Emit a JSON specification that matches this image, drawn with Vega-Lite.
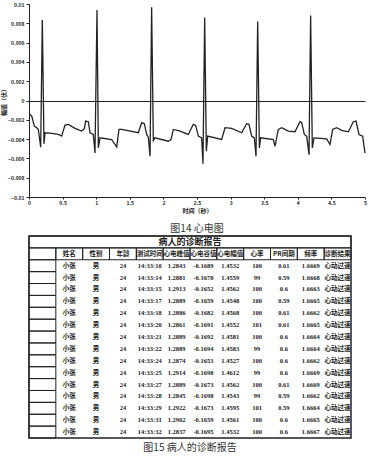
{
  "$schema": "https://vega.github.io/schema/vega-lite/v6.json",
  "background": "white",
  "padding": {"left": 0, "top": 2, "right": 0, "bottom": 0},
  "spacing": 0,
  "config": {"view": {"stroke": null}, "font": "Noto Sans CJK SC", "axis": {"labelOverlap": false}},
  "datasets": {
    "ecg": [
      {"t": 0.000, "v": -0.00136}, {"t": 0.040, "v": -0.00160}, {"t": 0.079, "v": -0.00265}, {"t": 0.114, "v": -0.00282},
      {"t": 0.139, "v": -0.00300}, {"t": 0.174, "v": -0.00484}, {"t": 0.198, "v": 0.00833}, {"t": 0.223, "v": -0.00449},
      {"t": 0.238, "v": -0.00334}, {"t": 0.337, "v": -0.00341}, {"t": 0.437, "v": -0.00352}, {"t": 0.486, "v": -0.00369},
      {"t": 0.536, "v": -0.00254}, {"t": 0.585, "v": -0.00247}, {"t": 0.685, "v": -0.00289}, {"t": 0.784, "v": -0.00317},
      {"t": 0.823, "v": -0.00293}, {"t": 0.843, "v": -0.00213}, {"t": 0.883, "v": -0.00220}, {"t": 0.908, "v": -0.00334},
      {"t": 0.957, "v": -0.00352}, {"t": 0.982, "v": -0.00544}, {"t": 1.012, "v": 0.00937}, {"t": 1.032, "v": -0.00491},
      {"t": 1.057, "v": -0.00387}, {"t": 1.230, "v": -0.00404}, {"t": 1.305, "v": -0.00481}, {"t": 1.339, "v": -0.00300},
      {"t": 1.379, "v": -0.00300}, {"t": 1.627, "v": -0.00334}, {"t": 1.677, "v": -0.00230}, {"t": 1.716, "v": -0.00240},
      {"t": 1.751, "v": -0.00352}, {"t": 1.776, "v": -0.00380}, {"t": 1.801, "v": -0.00578}, {"t": 1.825, "v": 0.00965},
      {"t": 1.850, "v": -0.00415}, {"t": 1.875, "v": -0.00387}, {"t": 2.073, "v": -0.00422}, {"t": 2.113, "v": -0.00404},
      {"t": 2.148, "v": -0.00300}, {"t": 2.247, "v": -0.00317}, {"t": 2.371, "v": -0.00352}, {"t": 2.445, "v": -0.00247},
      {"t": 2.480, "v": -0.00258}, {"t": 2.520, "v": -0.00369}, {"t": 2.569, "v": -0.00387}, {"t": 2.589, "v": -0.00655},
      {"t": 2.614, "v": 0.00861}, {"t": 2.639, "v": -0.00526}, {"t": 2.659, "v": -0.00369}, {"t": 2.867, "v": -0.00404},
      {"t": 2.917, "v": -0.00282}, {"t": 3.016, "v": -0.00289}, {"t": 3.165, "v": -0.00334}, {"t": 3.239, "v": -0.00240},
      {"t": 3.274, "v": -0.00247}, {"t": 3.313, "v": -0.00369}, {"t": 3.353, "v": -0.00387}, {"t": 3.378, "v": -0.00578},
      {"t": 3.403, "v": 0.00819}, {"t": 3.428, "v": -0.00491}, {"t": 3.447, "v": -0.00387}, {"t": 3.636, "v": -0.00404},
      {"t": 3.661, "v": -0.00474}, {"t": 3.710, "v": -0.00300}, {"t": 3.760, "v": -0.00282}, {"t": 3.859, "v": -0.00317},
      {"t": 3.958, "v": -0.00324}, {"t": 4.033, "v": -0.00220}, {"t": 4.058, "v": -0.00230}, {"t": 4.097, "v": -0.00352},
      {"t": 4.132, "v": -0.00369}, {"t": 4.167, "v": -0.00561}, {"t": 4.191, "v": 0.00882}, {"t": 4.216, "v": -0.00491},
      {"t": 4.241, "v": -0.00387}, {"t": 4.430, "v": -0.00397}, {"t": 4.479, "v": -0.00456}, {"t": 4.519, "v": -0.00300},
      {"t": 4.578, "v": -0.00282}, {"t": 4.653, "v": -0.00310}, {"t": 4.752, "v": -0.00324}, {"t": 4.826, "v": -0.00220},
      {"t": 4.866, "v": -0.00213}, {"t": 4.911, "v": -0.00352}, {"t": 4.965, "v": -0.00369}, {"t": 5.000, "v": -0.00544}
    ],
    "rows": [
      {"序号": 1, "姓名": "小张", "性别": "男", "年龄": 24, "测试时间": "14:33:10", "心电峰值": 1.2843, "心电谷值": -0.1689, "心电幅值": 1.4532, "心率": 100, "PR间期": 0.61, "频率": 1.6669, "诊断结果": "心动过速"},
      {"序号": 2, "姓名": "小张", "性别": "男", "年龄": 24, "测试时间": "14:33:14", "心电峰值": 1.2881, "心电谷值": -0.1678, "心电幅值": 1.4559, "心率": 99, "PR间期": 0.59, "频率": 1.6668, "诊断结果": "心动过速"},
      {"序号": 3, "姓名": "小张", "性别": "男", "年龄": 24, "测试时间": "14:33:15", "心电峰值": 1.2913, "心电谷值": -0.1652, "心电幅值": 1.4562, "心率": 100, "PR间期": 0.6, "频率": 1.6663, "诊断结果": "心动过速"},
      {"序号": 4, "姓名": "小张", "性别": "男", "年龄": 24, "测试时间": "14:33:17", "心电峰值": 1.2889, "心电谷值": -0.1659, "心电幅值": 1.4548, "心率": 100, "PR间期": 0.59, "频率": 1.6665, "诊断结果": "心动过速"},
      {"序号": 5, "姓名": "小张", "性别": "男", "年龄": 24, "测试时间": "14:33:18", "心电峰值": 1.2886, "心电谷值": -0.1682, "心电幅值": 1.4568, "心率": 100, "PR间期": 0.61, "频率": 1.6662, "诊断结果": "心动过速"},
      {"序号": 6, "姓名": "小张", "性别": "男", "年龄": 24, "测试时间": "14:33:20", "心电峰值": 1.2861, "心电谷值": -0.1691, "心电幅值": 1.4552, "心率": 101, "PR间期": 0.61, "频率": 1.6665, "诊断结果": "心动过速"},
      {"序号": 7, "姓名": "小张", "性别": "男", "年龄": 24, "测试时间": "14:33:21", "心电峰值": 1.2889, "心电谷值": -0.1692, "心电幅值": 1.4581, "心率": 100, "PR间期": 0.6, "频率": 1.6664, "诊断结果": "心动过速"},
      {"序号": 8, "姓名": "小张", "性别": "男", "年龄": 24, "测试时间": "14:33:22", "心电峰值": 1.2889, "心电谷值": -0.1694, "心电幅值": 1.4583, "心率": 99, "PR间期": 0.6, "频率": 1.6664, "诊断结果": "心动过速"},
      {"序号": 9, "姓名": "小张", "性别": "男", "年龄": 24, "测试时间": "14:33:24", "心电峰值": 1.2874, "心电谷值": -0.1653, "心电幅值": 1.4527, "心率": 100, "PR间期": 0.6, "频率": 1.6662, "诊断结果": "心动过速"},
      {"序号": 10, "姓名": "小张", "性别": "男", "年龄": 24, "测试时间": "14:33:25", "心电峰值": 1.2914, "心电谷值": -0.1698, "心电幅值": 1.4612, "心率": 99, "PR间期": 0.6, "频率": 1.6669, "诊断结果": "心动过速"},
      {"序号": 11, "姓名": "小张", "性别": "男", "年龄": 24, "测试时间": "14:33:27", "心电峰值": 1.2889, "心电谷值": -0.1673, "心电幅值": 1.4562, "心率": 100, "PR间期": 0.61, "频率": 1.6669, "诊断结果": "心动过速"},
      {"序号": 12, "姓名": "小张", "性别": "男", "年龄": 24, "测试时间": "14:33:28", "心电峰值": 1.2845, "心电谷值": -0.1698, "心电幅值": 1.4543, "心率": 99, "PR间期": 0.59, "频率": 1.6662, "诊断结果": "心动过速"},
      {"序号": 13, "姓名": "小张", "性别": "男", "年龄": 24, "测试时间": "14:33:29", "心电峰值": 1.2922, "心电谷值": -0.1673, "心电幅值": 1.4595, "心率": 101, "PR间期": 0.59, "频率": 1.6664, "诊断结果": "心动过速"},
      {"序号": 14, "姓名": "小张", "性别": "男", "年龄": 24, "测试时间": "14:33:31", "心电峰值": 1.2902, "心电谷值": -0.1659, "心电幅值": 1.4561, "心率": 100, "PR间期": 0.6, "频率": 1.6665, "诊断结果": "心动过速"},
      {"序号": 15, "姓名": "小张", "性别": "男", "年龄": 24, "测试时间": "14:33:32", "心电峰值": 1.2837, "心电谷值": -0.1695, "心电幅值": 1.4532, "心率": 100, "PR间期": 0.6, "频率": 1.6667, "诊断结果": "心动过速"}
    ],
    "cols": [
      {"c": "idx", "label": ""}, {"c": "姓名", "label": "姓名"}, {"c": "性别", "label": "性别"}, {"c": "年龄", "label": "年龄"},
      {"c": "测试时间", "label": "测试时间"}, {"c": "心电峰值", "label": "心电峰值"}, {"c": "心电谷值", "label": "心电谷值"},
      {"c": "心电幅值", "label": "心电幅值"}, {"c": "心率", "label": "心率"}, {"c": "PR间期", "label": "PR间期"},
      {"c": "频率", "label": "频率"}, {"c": "诊断结果", "label": "诊断结果"}
    ],
    "caption": [{"t": "病人的诊断报告"}]
  },
  "vconcat": [
    {
      "width": 336,
      "height": 193,
      "title": {"text": "图14 心电图", "orient": "bottom", "fontSize": 10, "fontWeight": "normal", "color": "#333", "offset": 11, "font": "Noto Sans CJK SC"},
      "data": {"name": "ecg"},
      "mark": {"type": "line", "color": "#222", "strokeWidth": 1.3},
      "encoding": {
        "x": {"field": "t", "type": "quantitative", "scale": {"domain": [0, 5], "nice": false},
          "axis": {"values": [0, 0.5, 1, 1.5, 2, 2.5, 3, 3.5, 4, 4.5, 5], "format": "~g", "grid": false, "title": "时间（秒）",
            "labelFontSize": 5, "labelFontWeight": "bold", "labelPadding": 1, "tickSize": 2, "titleFontSize": 6, "titleFontWeight": "bold", "titlePadding": 2,
            "domainColor": "#222", "tickColor": "#222", "labelColor": "#222", "titleColor": "#222", "labelFlush": false, "labelOverlap": false}},
        "y": {"field": "v", "type": "quantitative", "scale": {"domain": [-0.01, 0.01], "nice": false},
          "axis": {"values": [-0.01, -0.008, -0.006, -0.004, -0.002, 0, 0.002, 0.004, 0.006, 0.008, 0.01],
            "format": "~g", "grid": true, "gridColor": "#222", "gridWidth": 1,
            "gridOpacity": {"condition": {"test": "datum.value === 0", "value": 1}, "value": 0},
            "title": "幅值（伏）",
            "labelFontSize": 5, "labelFontWeight": "bold", "labelPadding": 2, "tickSize": 3, "titleFontSize": 6, "titleFontWeight": "bold", "titlePadding": 1,
            "domainColor": "#222", "tickColor": "#222", "labelColor": "#222", "titleColor": "#222", "labelFlush": false, "labelOverlap": false}}
      }
    },
    {
      "width": 322,
      "height": 202,
      "view": {"stroke": "#222", "strokeWidth": 1.5},
      "title": {"text": "图15 病人的诊断报告", "orient": "bottom", "fontSize": 10, "fontWeight": "normal", "color": "#333", "offset": 4, "font": "Noto Sans CJK SC"},
      "layer": [
        {
          "data": {"name": "caption"},
          "mark": {"type": "rect", "fill": "transparent", "stroke": "#222", "strokeWidth": 1},
          "encoding": {
            "y": {"datum": "T", "type": "ordinal",
              "scale": {"domain": ["T", "H", 1, 2, 3, 4, 5, 6, 7, 8, 9, 10, 11, 12, 13, 14, 15], "paddingInner": 0, "paddingOuter": 0}, "axis": null}
          }
        },
        {
          "data": {"name": "caption"},
          "mark": {"type": "text", "fontSize": 9, "fontWeight": "bold", "fill": "#222", "font": "Noto Sans CJK SC"},
          "encoding": {
            "y": {"datum": "T", "type": "ordinal"},
            "text": {"field": "t"}
          }
        },
        {
          "data": {"name": "cols"},
          "mark": {"type": "rect", "fill": "transparent", "stroke": "#222", "strokeWidth": 1},
          "encoding": {
            "x": {"field": "c", "type": "nominal",
              "scale": {"domain": ["idx", "姓名", "性别", "年龄", "测试时间", "心电峰值", "心电谷值", "心电幅值", "心率", "PR间期", "频率", "诊断结果"], "paddingInner": 0, "paddingOuter": 0}, "axis": null},
            "y": {"datum": "H", "type": "ordinal"}
          }
        },
        {
          "data": {"name": "cols"},
          "mark": {"type": "text", "fontSize": 6.5, "fontWeight": "bold", "fill": "#222", "font": "Noto Sans CJK SC"},
          "encoding": {
            "x": {"field": "c", "type": "nominal"},
            "y": {"datum": "H", "type": "ordinal"},
            "text": {"field": "label"}
          }
        },
        {
          "data": {"name": "rows"},
          "mark": {"type": "rect", "fill": "transparent", "stroke": "#222", "strokeWidth": 1},
          "encoding": {
            "x": {"datum": "idx", "type": "nominal"},
            "y": {"field": "序号", "type": "ordinal"}
          }
        },
        {
          "data": {"name": "rows"},
          "transform": [{"fold": ["姓名", "性别", "年龄", "测试时间", "心电峰值", "心电谷值", "心电幅值", "心率", "PR间期", "频率", "诊断结果"], "as": ["key", "value"]}],
          "mark": {"type": "text", "fontSize": 6.5, "fontWeight": "bold", "fill": "#222", "font": "Liberation Serif, Noto Sans CJK SC"},
          "encoding": {
            "x": {"field": "key", "type": "nominal"},
            "y": {"field": "序号", "type": "ordinal"},
            "text": {"field": "value", "type": "nominal"}
          }
        }
      ]
    }
  ]
}
